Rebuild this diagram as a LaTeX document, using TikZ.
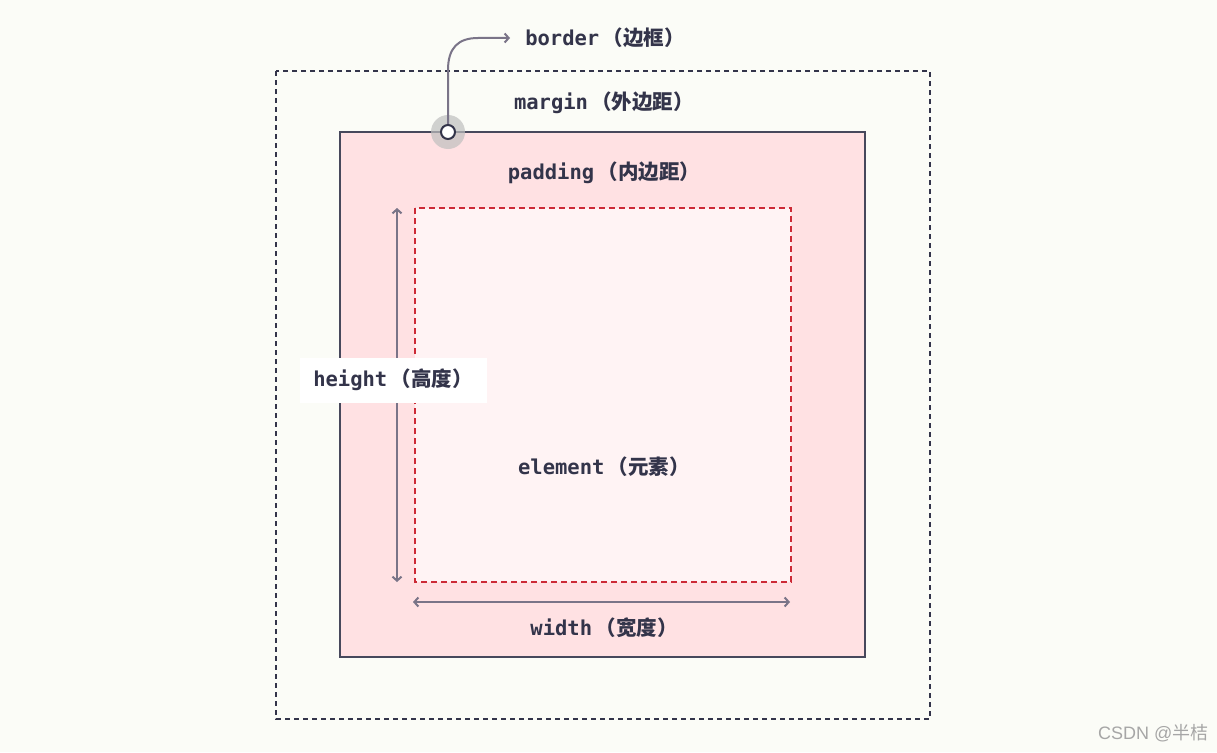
\documentclass[tikz,border=0pt]{standalone}
\usepackage{fontspec}
\setmonofont{DejaVu Sans Mono}
\setmainfont{Liberation Sans}
\newfontfamily\cjk{Noto Sans CJK SC}
\usetikzlibrary{arrows.meta}
\definecolor{bg}{HTML}{FBFCF7}
\definecolor{txt}{HTML}{33344A}
\definecolor{pad}{HTML}{FFE1E3}
\definecolor{elem}{HTML}{FFF3F4}
\definecolor{redd}{HTML}{CC2A36}
\definecolor{arr}{HTML}{7A7488}
\tikzset{lbl/.style={text=txt,font=\fontsize{20.5}{24}\selectfont},
 dim/.style={arr,line width=2pt,{Straight Barb[length=4pt,width=9pt]}-{Straight Barb[length=4pt,width=9pt]}}}
\newcommand{\lab}[2]{\ttfamily\bfseries #1\,{\cjk （#2）}}
\begin{document}
\begin{tikzpicture}[x=1pt,y=-1pt]
\fill[bg] (0,0) rectangle (1217,752);
\useasboundingbox (0,0) rectangle (1217,752);
\draw[txt,line width=2.2pt,dash pattern=on 5pt off 4pt] (276,71) rectangle (930,719);
\draw[fill=pad,draw=txt!90,line width=2.6pt] (340,132) rectangle (865,657);
\draw[fill=elem,draw=redd,line width=2.6pt,dash pattern=on 6pt off 4pt] (415,208) rectangle (791,582);
\node[lbl] (margin) at (604,103) {\lab{margin}{外边距}};
\node[lbl] (padding) at (604,173) {\lab{padding}{内边距}};
\node[lbl] (element) at (604,467) {\lab{element}{元素}};
\node[lbl] (width) at (604,628) {\lab{width}{宽度}};
\node[lbl] (border) at (605,38) {\lab{border}{边框}};
\coordinate (ht) at (397,208); \coordinate (hb) at (397,582);
\coordinate (wl) at (413,602); \coordinate (wr) at (790,602);
\draw[dim] (ht) -- (hb);
\draw[dim] (wl) -- (wr);
\node[fill=white,minimum width=187pt,minimum height=45pt,inner sep=0] (hbox) at (393,380) {};
\node[lbl] (height) at (393,380) {\lab{height}{高度}};
\coordinate (c) at (448,132);
\fill[gray!50,opacity=0.7] (c) circle (17pt);
\coordinate (tip) at (510,38);
\draw[arr,line width=2pt,-{Straight Barb[length=4pt,width=9pt]}] (c) -- (448,70) .. controls (448,48) and (458,38) .. (478,38) -- (tip);
\node[circle,draw=txt,fill=white,line width=2pt,minimum size=14pt,inner sep=0] (cn) at (c) {};
\node[text=gray!70,font=\fontsize{18}{20}\selectfont,anchor=east] (csdn) at (1212,733) {CSDN @{\cjk 半桔}};
\end{tikzpicture}
\end{document}
